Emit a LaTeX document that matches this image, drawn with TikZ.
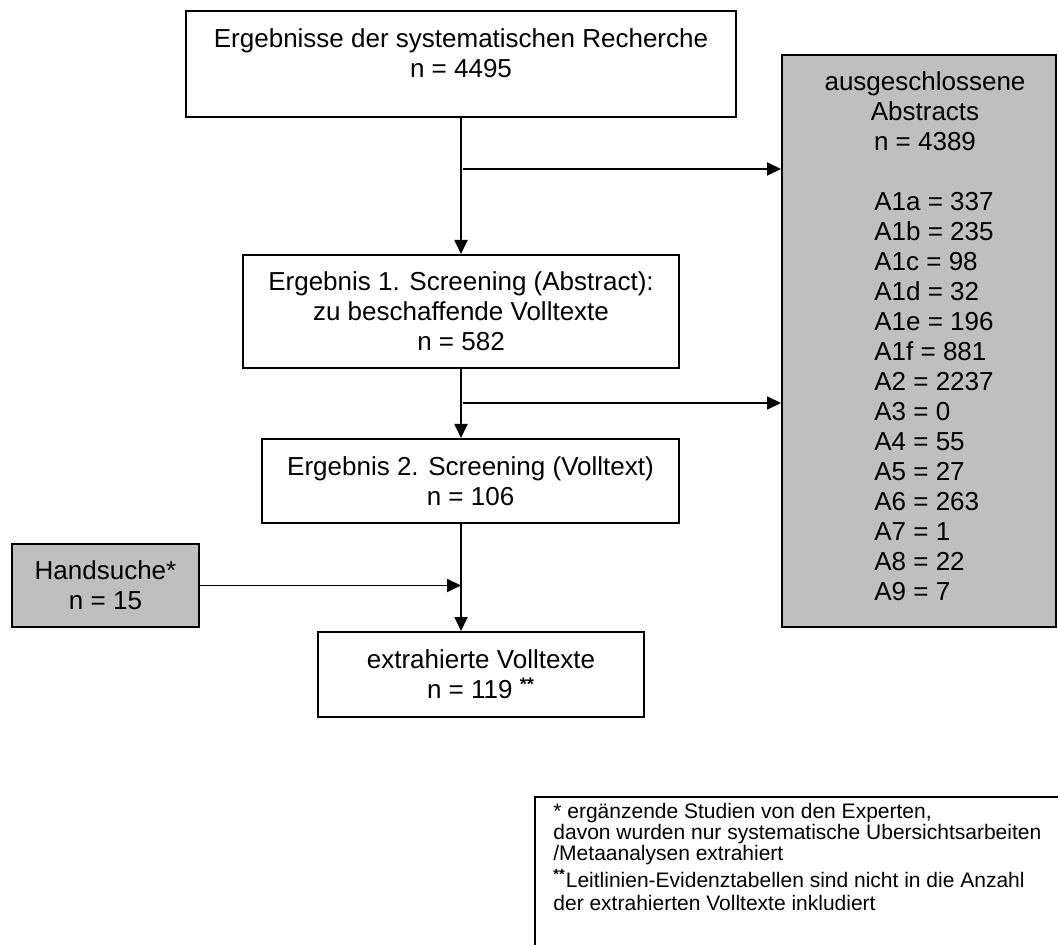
\documentclass[tikz,border=0pt]{standalone}
\usepackage{fontspec}
\setmainfont{Liberation Sans}
\usetikzlibrary{arrows.meta}

\tikzset{
	box/.style={draw, line width=1pt, inner sep=0pt, align=center, font=\fontsize{13}{15}\selectfont},
	greybox/.style={box, fill=black!25},
	arr/.style={line width=0.9pt, -{Triangle[length=7pt,width=6.5pt]}},
	note/.style={inner sep=0pt, align=left, font=\fontsize{10.5}{10.5}\selectfont}
}

\begin{document}
\begin{tikzpicture}[x=0.5pt, y=-0.5pt]
		%%%%% START %%%%%
		\useasboundingbox (0,0) rectangle (1058,945);
		
		\node[box, minimum width=275pt, minimum height=53pt] (res) at (461,64) {Ergebnisse der systematischen Recherche\\n = 4495\\[-4pt]\mbox{}};
		\node[box, minimum width=218pt, minimum height=56.5pt] (scr1) at (461,311.5) {Ergebnis 1. Screening (Abstract):\\zu beschaffende Volltexte\\n = 582};
		\node[box, minimum width=208.5pt, minimum height=42pt] (scr2) at (470.5,481) {Ergebnis 2. Screening (Volltext)\\n = 106};
		\node[box, minimum width=163pt, minimum height=42.5pt] (extr) at (481,674.5) {extrahierte Volltexte\\n = 119 \textsuperscript{\textbf{**}}};
		\node[greybox, minimum width=93.5pt, minimum height=41.5pt] (hand) at (105.5,585.5) {Handsuche*\\n = 15};
		\node[greybox, minimum width=137pt, minimum height=286pt] (excl) at (919,341) {\hspace*{6pt}ausgeschlossene\\\hspace*{6pt}Abstracts\\\hspace*{6pt}n = 4389\\[15pt]%
			\begin{tabular}[t]{@{\hspace{15pt}}l@{}}
				A1a = 337\\ A1b = 235\\ A1c = 98\\ A1d = 32\\ A1e = 196\\ A1f = 881\\ A2 = 2237\\
				A3 = 0\\ A4 = 55\\ A5 = 27\\ A6 = 263\\ A7 = 1\\ A8 = 22\\ A9 = 7
			\end{tabular}};
		
		% main flow
		\draw[arr] (res) -- (scr1);
		\draw[arr] (scr1) -- (scr1.south |- scr2.north);
		\draw[arr] (scr2.south -| scr1.south) -- (scr1.south |- extr.north);
		\draw[arr] (hand) -- (hand -| scr1.south);
		
		% excluded
		\coordinate (b1) at (463,169);
		\coordinate (b2) at (463,403);
		\draw[arr] (b1) -- (b1 -| excl.west);
		\draw[arr] (b2) -- (b2 -| excl.west);
		
		% footnotes
		\draw[line width=1pt] (535,945) |- (1058,797);
		\node[note, anchor=north west] (fn) at (553,803) {* ergänzende Studien von den Experten,\\davon wurden nur systematische Ubersichtsarbeiten\\/Metaanalysen extrahiert\\[1pt]\textsuperscript{\textbf{**}}Leitlinien-Evidenztabellen sind nicht in die Anzahl\\[1pt]der extrahierten Volltexte inkludiert};
		
		%%%%% END %%%%%
\end{tikzpicture}
\end{document}
